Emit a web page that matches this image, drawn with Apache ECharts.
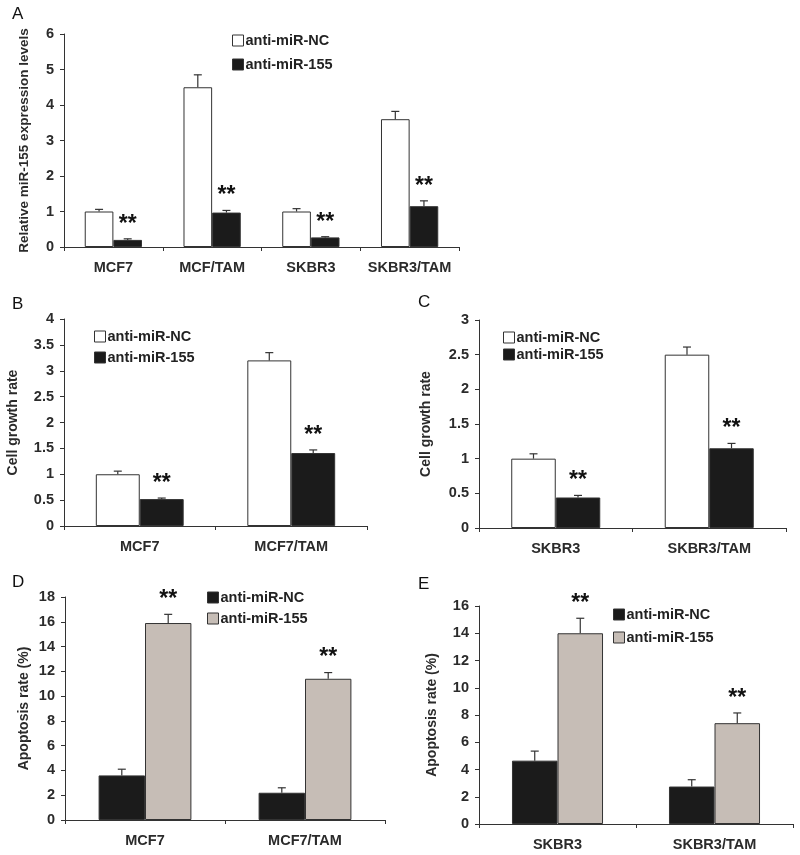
<!DOCTYPE html>
<html>
<head>
<meta charset="utf-8">
<script src="https://cdn.jsdelivr.net/npm/echarts@6/dist/echarts.min.js"></script>
<style>
  html, body { margin: 0; padding: 0; background: #fff; }
  #chart { width: 800px; height: 855px; }
</style>
</head>
<body>
<div id="chart"></div>
<script>
// panel A: relative miR-155 expression
const catsA = ['MCF7', 'MCF/TAM', 'SKBR3', 'SKBR3/TAM'];
const ncA = [1.0, 4.5, 1.0, 3.6];
const ncErrA = [0.06, 0.35, 0.08, 0.22];
const miA = [0.2, 0.97, 0.27, 1.15];
const miErrA = [0.03, 0.06, 0.02, 0.15];

// panel B: cell growth, MCF7
const catsB = ['MCF7', 'MCF7/TAM'];
const ncB = [1.0, 3.2];
const ncErrB = [0.06, 0.15];
const miB = [0.52, 1.41];
const miErrB = [0.02, 0.06];

// panel C: cell growth, SKBR3
const catsC = ['SKBR3', 'SKBR3/TAM'];
const ncC = [1.0, 2.5];
const ncErrC = [0.07, 0.11];
const miC = [0.44, 1.15];
const miErrC = [0.03, 0.07];

// panel D: apoptosis, MCF7
const catsD = ['MCF7', 'MCF7/TAM'];
const ncD = [3.6, 2.2];
const ncErrD = [0.5, 0.4];
const miD = [15.9, 11.4];
const miErrD = [0.7, 0.5];

// panel E: apoptosis, SKBR3
const catsE = ['SKBR3', 'SKBR3/TAM'];
const ncE = [4.65, 2.75];
const ncErrE = [0.7, 0.5];
const miE = [14.0, 7.4];
const miErrE = [1.1, 0.75];

const FONT = 'Liberation Sans, Arial, sans-serif';
const WHITE = '#ffffff';
const BLACK = '#1b1b1b';
const GRAY = '#c6bdb6';
const GAP = 0.42;

const panels = [
  { letter: 'A', cats: catsA, nc: ncA, ncErr: ncErrA, mi: miA, miErr: miErrA,
    grid: { left: 64, top: 34, width: 395, height: 213 }, max: 6, interval: 1,
    yName: 'Relative miR-155 expression levels', nameGap: 33, nameSize: 13.5,
    ncColor: WHITE, miColor: BLACK, legend: { left: 227, top: 28, itemGap: 9 },
    letterPos: [12, 6] },
  { letter: 'B', cats: catsB, nc: ncB, ncErr: ncErrB, mi: miB, miErr: miErrB,
    grid: { left: 64, top: 319, width: 303, height: 207 }, max: 4, interval: 0.5,
    yName: 'Cell growth rate', nameGap: 44, nameSize: 14,
    ncColor: WHITE, miColor: BLACK, legend: { left: 89, top: 324, itemGap: 6 },
    letterPos: [12, 296] },
  { letter: 'C', cats: catsC, nc: ncC, ncErr: ncErrC, mi: miC, miErr: miErrC,
    grid: { left: 479, top: 320, width: 307, height: 208 }, max: 3, interval: 0.5,
    yName: 'Cell growth rate', nameGap: 46, nameSize: 14,
    ncColor: WHITE, miColor: BLACK, legend: { left: 498, top: 325, itemGap: 2 },
    letterPos: [418, 294] },
  { letter: 'D', cats: catsD, nc: ncD, ncErr: ncErrD, mi: miD, miErr: miErrD,
    grid: { left: 65, top: 597, width: 320, height: 223 }, max: 18, interval: 2,
    yName: 'Apoptosis rate (%)', nameGap: 34, nameSize: 14,
    ncColor: BLACK, miColor: GRAY, legend: { left: 202, top: 585, itemGap: 6 },
    letterPos: [12, 574] },
  { letter: 'E', cats: catsE, nc: ncE, ncErr: ncErrE, mi: miE, miErr: miErrE,
    grid: { left: 479, top: 606, width: 314, height: 218 }, max: 16, interval: 2,
    yName: 'Apoptosis rate (%)', nameGap: 40, nameSize: 14,
    ncColor: BLACK, miColor: GRAY, legend: { left: 608, top: 602, itemGap: 8 },
    letterPos: [418, 576] }
];

const labelStyle = { fontFamily: FONT, fontWeight: 'bold', fontSize: 14, color: '#2b2b2b' };

// error bar (upwards only) plus optional asterisks, offset to the bar's slot
function errorSeries(idx, vals, errs, side, stars) {
  return {
    type: 'custom',
    xAxisIndex: idx,
    yAxisIndex: idx,
    z: 5,
    silent: true,
    data: vals.map((v, i) => [i, v, v + errs[i]]),
    renderItem: (params, api) => {
      const band = api.size([1, 0])[0];
      const barW = band * (1 - GAP) / 2;
      const base = api.coord([api.value(0), api.value(1)]);
      const top = api.coord([api.value(0), api.value(2)]);
      const x = base[0] + side * barW / 2;
      const children = [
        { type: 'line', shape: { x1: x, y1: base[1], x2: x, y2: top[1] },
          style: { stroke: '#333', lineWidth: 1.2 } },
        { type: 'line', shape: { x1: x - 4, y1: top[1], x2: x + 4, y2: top[1] },
          style: { stroke: '#333', lineWidth: 1.2 } }
      ];
      if (stars) {
        children.push({
          type: 'text',
          style: { x: x, y: top[1] - 3, text: '**', align: 'center', verticalAlign: 'bottom',
            font: 'bold 23px ' + FONT, fill: '#111' }
        });
      }
      return { type: 'group', children };
    }
  };
}

const grid = [], xAxis = [], yAxis = [], series = [], legend = [], graphic = [];

panels.forEach((p, idx) => {
  grid.push(p.grid);
  xAxis.push({
    type: 'category', gridIndex: idx, data: p.cats,
    axisLine: { lineStyle: { color: '#333', width: 1 } },
    axisTick: { show: true, length: 4, lineStyle: { color: '#333' } },
    axisLabel: Object.assign({}, labelStyle, { margin: 13, fontSize: 14.5, interval: 0 })
  });
  yAxis.push({
    type: 'value', gridIndex: idx, min: 0, max: p.max, interval: p.interval,
    name: p.yName, nameLocation: 'middle', nameRotate: 90, nameGap: p.nameGap,
    nameTextStyle: Object.assign({}, labelStyle, { fontSize: p.nameSize }),
    axisLine: { show: true, lineStyle: { color: '#333', width: 1 } },
    axisTick: { show: true, length: 4, lineStyle: { color: '#333' } },
    axisLabel: Object.assign({}, labelStyle, { margin: 10, fontSize: 14.5 }),
    splitLine: { show: false }
  });
  series.push({
    name: 'anti-miR-NC', type: 'bar', xAxisIndex: idx, yAxisIndex: idx,
    data: p.nc, barGap: '0%', barCategoryGap: (GAP * 100) + '%',
    itemStyle: { color: p.ncColor, borderColor: '#333', borderWidth: 1 }
  });
  series.push({
    name: 'anti-miR-155', type: 'bar', xAxisIndex: idx, yAxisIndex: idx,
    data: p.mi, barGap: '0%', barCategoryGap: (GAP * 100) + '%',
    itemStyle: { color: p.miColor, borderColor: '#333', borderWidth: 1 }
  });
  series.push(errorSeries(idx, p.nc, p.ncErr, -1, false));
  series.push(errorSeries(idx, p.mi, p.miErr, 1, true));
  legend.push({
    left: p.legend.left, top: p.legend.top, orient: 'vertical',
    itemWidth: 11, itemHeight: 11, itemGap: p.legend.itemGap,
    icon: 'rect',
    textStyle: { fontFamily: FONT, fontWeight: 'bold', fontSize: 14.5, color: '#222', padding: [0, 0, 0, -3] },
    selectedMode: false,
    data: [
      { name: 'anti-miR-NC', itemStyle: { color: p.ncColor, borderColor: '#333', borderWidth: 1 } },
      { name: 'anti-miR-155', itemStyle: { color: p.miColor, borderColor: '#333', borderWidth: 1 } }
    ]
  });
  graphic.push({
    type: 'text', left: p.letterPos[0], top: p.letterPos[1],
    style: { text: p.letter, font: '17px ' + FONT, fill: '#111' }
  });
});

const chart = echarts.init(document.getElementById('chart'), null, { renderer: 'canvas' });
chart.setOption({
  backgroundColor: '#fff',
  animation: false,
  grid, xAxis, yAxis, series, legend, graphic
});
</script>
</body>
</html>
